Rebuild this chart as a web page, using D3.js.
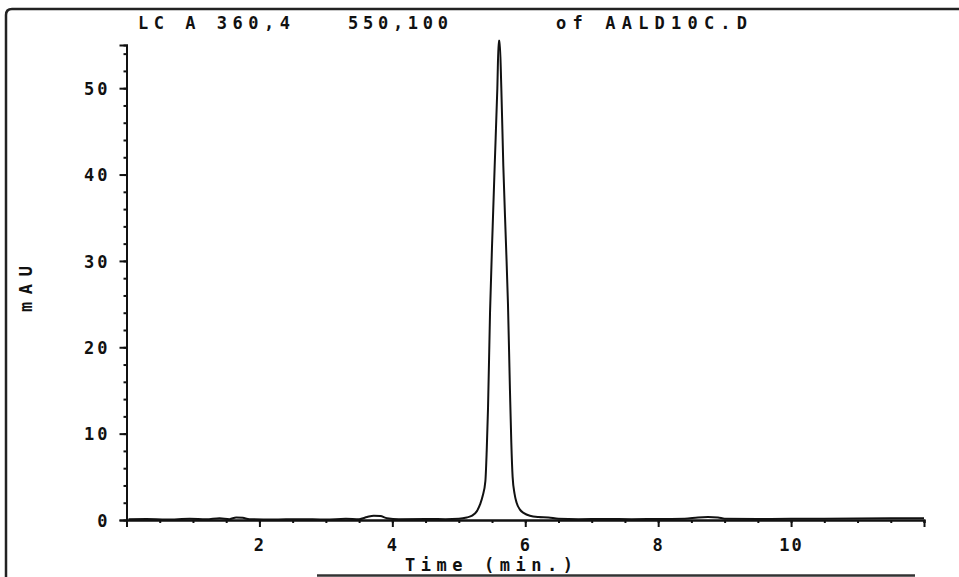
<!DOCTYPE html>
<html lang="en">
<head>
  <title>LC A 360,4 chromatogram</title>
  <style type="text/css">
    body { margin: 0; background: #fff; }
    svg { width: 959px; height: 577px; display: block; }
    text { font-family: "DejaVu Sans Mono", "Liberation Mono", monospace; font-weight: bold; fill: #111; }
  </style>
  <script src="https://cdnjs.cloudflare.com/ajax/libs/d3/7.8.5/d3.min.js"></script>
</head>
<body>
<div id="chart"></div>
<script>
  // trace: time (min) and absorbance (mAU)
  var timeMin = [0.03, 0.3, 0.6, 0.95, 1.2, 1.4, 1.55, 1.65, 1.75, 1.85, 2.2, 2.6, 3.0, 3.3, 3.5,
    3.62, 3.72, 3.82, 3.92, 4.1, 4.5, 4.8, 5.0, 5.12, 5.2, 5.27, 5.32, 5.36, 5.40, 5.42,
    5.44, 5.47, 5.51, 5.54, 5.58, 5.60, 5.615, 5.64, 5.67, 5.71, 5.74, 5.77, 5.79, 5.81,
    5.84, 5.87, 5.92, 5.98, 6.07, 6.2, 6.35, 6.5, 6.8, 7.2, 7.6, 8.0, 8.4, 8.6, 8.75, 8.9,
    9.0, 9.5, 10.0, 10.5, 11.0, 11.5, 12.0];
  var mAU = [0.1, 0.12, 0.05, 0.15, 0.08, 0.2, 0.1, 0.3, 0.25, 0.1, 0.05, 0.1, 0.05, 0.15, 0.1,
    0.35, 0.5, 0.45, 0.2, 0.1, 0.12, 0.1, 0.15, 0.3, 0.5, 1.0, 1.8, 2.8, 4.5, 8,
    13, 24, 34, 41, 50, 55.5, 55.5, 50, 41, 32, 25, 15, 9, 5,
    3, 2, 1.2, 0.8, 0.5, 0.35, 0.3, 0.15, 0.1, 0.12, 0.1, 0.12, 0.15, 0.3, 0.35, 0.3,
    0.15, 0.12, 0.15, 0.15, 0.18, 0.2, 0.2];

  var xTicks = [2, 4, 6, 8, 10];
  var yTicks = [0, 10, 20, 30, 40, 50];
  var titleParts = ["LC A 360,4", "550,100", "of AALD10C.D"];

  var w = 959, h = 577;
  var svg = d3.select("#chart").append("svg")
    .attr("width", w)
    .attr("height", h);

  var x = d3.scaleLinear().domain([0, 12]).range([126.5, 924]);
  var y = d3.scaleLinear().domain([0, 55]).range([520, 45]);

  // outer frame of the printout
  svg.append("path")
    .attr("d", "M959,9 L12,9 Q6,9 6,15 L6,577")
    .attr("fill", "none")
    .attr("stroke", "#222")
    .attr("stroke-width", 2.5);
  svg.append("line")
    .attr("x1", 317).attr("x2", 915)
    .attr("y1", 575.5).attr("y2", 575.5)
    .attr("stroke", "#333")
    .attr("stroke-width", 2.5);

  // title pieces
  var titleX = [138, 348, 556], titleW = [152, 100, 191];
  svg.selectAll("text.title")
    .data(titleParts)
    .enter().append("text")
    .attr("class", "title")
    .attr("x", function(d, i) { return titleX[i]; })
    .attr("y", 29)
    .attr("font-size", 17)
    .attr("textLength", function(d, i) { return titleW[i]; })
    .attr("lengthAdjust", "spacing")
    .text(function(d) { return d; });

  // x axis
  var xAxis = svg.append("g").attr("transform", "translate(0," + y(0) + ")");
  xAxis.call(d3.axisBottom(x).tickValues(d3.range(0.5, 12.01, 0.5)).tickSize(3).tickFormat(""));
  xAxis.append("g").call(d3.axisBottom(x).tickValues(xTicks).tickSize(7).tickFormat(d3.format("d")));
  xAxis.selectAll(".domain").attr("stroke", "#111").attr("stroke-width", 2);
  xAxis.selectAll("line").attr("stroke", "#111").attr("stroke-width", 2);
  xAxis.selectAll("text")
    .attr("font-size", 17)
    .attr("font-family", "DejaVu Sans Mono, monospace")
    .attr("font-weight", "bold")
    .attr("fill", "#111")
    .attr("letter-spacing", 2)
    .attr("dy", "0.71em")
    .attr("y", 19);

  // y axis
  var yAxis = svg.append("g").attr("transform", "translate(" + x(0) + ",0)");
  yAxis.call(d3.axisLeft(y).tickValues(d3.range(2, 55, 2)).tickSize(3).tickFormat(""));
  yAxis.append("g").call(d3.axisLeft(y).tickValues(yTicks).tickSize(7).tickFormat(d3.format("d")));
  yAxis.selectAll(".domain").attr("stroke", "#111").attr("stroke-width", 2);
  yAxis.selectAll("line").attr("stroke", "#111").attr("stroke-width", 2);
  yAxis.selectAll("text")
    .attr("font-size", 17)
    .attr("font-family", "DejaVu Sans Mono, monospace")
    .attr("font-weight", "bold")
    .attr("fill", "#111")
    .attr("letter-spacing", 3)
    .attr("x", -16)
    .attr("dy", "0.36em");

  // axis titles
  svg.append("text")
    .attr("x", 405)
    .attr("y", 571)
    .attr("font-size", 17)
    .attr("textLength", 168)
    .attr("lengthAdjust", "spacing")
    .text("Time (min.)");
  svg.append("text")
    .attr("transform", "translate(32,289) rotate(-90)")
    .attr("text-anchor", "middle")
    .attr("font-size", 17)
    .attr("textLength", 46)
    .attr("lengthAdjust", "spacing")
    .text("mAU");

  // signal trace
  var pts = timeMin.map(function(t, i) { return [t, mAU[i]]; });
  var line = d3.line()
    .x(function(d) { return x(d[0]); })
    .y(function(d) { return y(d[1]); })
    .curve(d3.curveMonotoneX);
  svg.append("path")
    .datum(pts)
    .attr("d", line)
    .attr("fill", "none")
    .attr("stroke", "#111")
    .attr("stroke-width", 2);
</script>
</body>
</html>
